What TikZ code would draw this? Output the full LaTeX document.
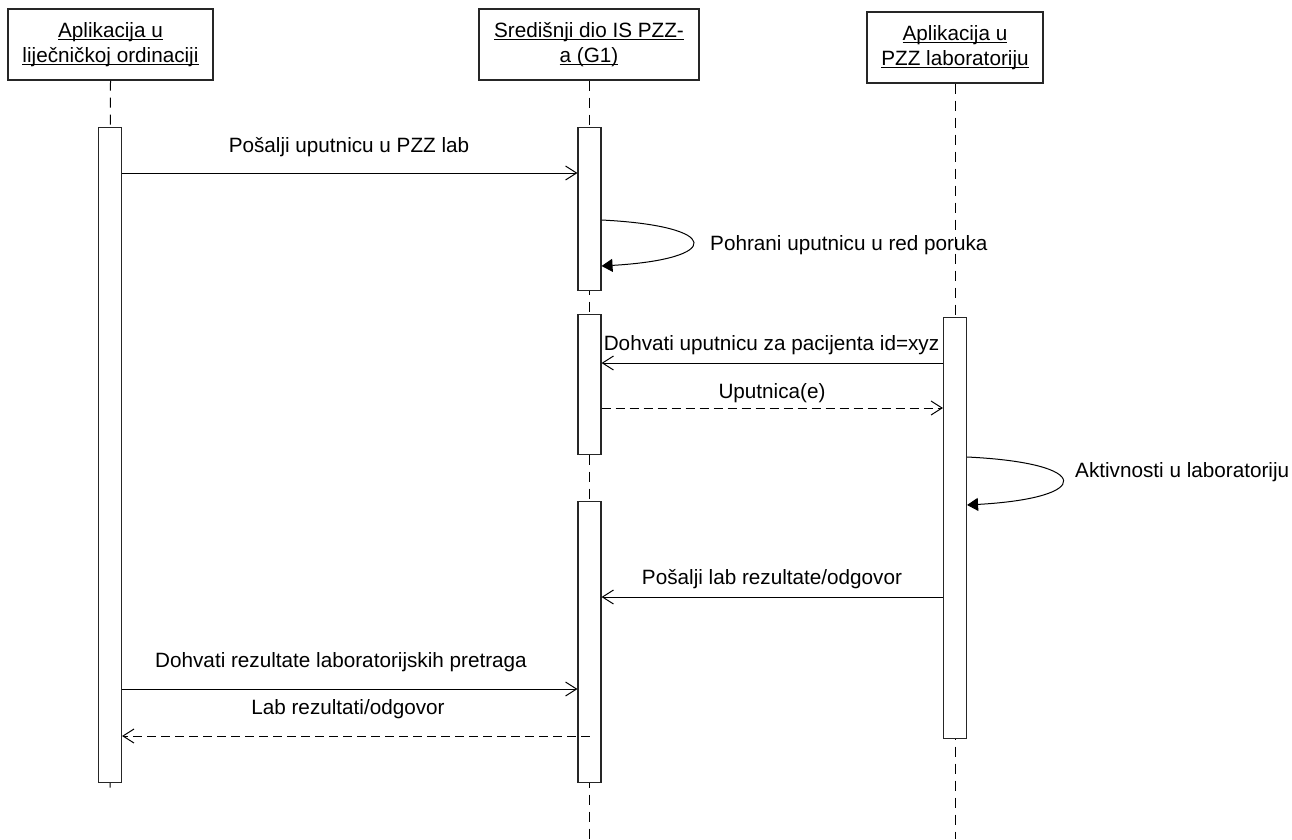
\documentclass[tikz,border=0pt]{standalone}
\usepackage{fontspec}
\setmainfont{Liberation Sans}
\usetikzlibrary{arrows.meta}
\newcommand\myul[1]{\sbox0{#1}\rlap{\rule[-3pt]{\wd0}{1pt}}\usebox0}
\tikzset{
  x=1pt, y=-1pt,
  every node/.style={font=\fontsize{20.7}{25}\selectfont, text=black},
  header/.style={draw=black!85, line width=1.1pt, fill=white, align=center, inner sep=0pt, minimum height=71pt},
  bar/.style={draw=black!85, line width=1.1pt, fill=white, minimum width=23pt, inner sep=0pt, anchor=north},
  life/.style={line width=1pt, dash pattern=on 10pt off 7pt},
  msg/.style={line width=1pt, -{Straight Barb[length=11pt,width=14pt,line width=1pt]}},
  reply/.style={line width=1pt, dash pattern=on 9pt off 5pt, -{Straight Barb[length=11pt,width=14pt,line width=1pt]}},
  selfmsg/.style={line width=1pt, -{Triangle[length=11pt,width=13pt]}},
  lbl/.style={anchor=base, inner sep=0pt},
}
\begin{document}
\begin{tikzpicture}
\useasboundingbox (0,0) rectangle (1292,839);
% headers
\node[header, minimum width=205pt] (h1) at (110.5,44.5) {\myul{Aplikacija u}\\\myul{liječničkoj ordinaciji}};
\node[header, minimum width=220pt] (h2) at (589,44.5) {\myul{Središnji dio IS PZZ-}\\\myul{a (G1)}};
\node[header, minimum width=176pt] (h3) at (955,47.5) {\myul{Aplikacija u}\\\myul{PZZ laboratoriju}};
% lifeline end points
\coordinate (e1) at (110,792);
\coordinate (e2) at (589.5,839);
\coordinate (e3) at (955,839);
% lifelines (dashed)
\draw[life] (h1.south) -- (e1);
\draw[life] (h2.south -| e2) -- (e2);
\draw[life] (h3.south) -- (e3);
% activation bars
\node[bar, minimum height=655pt] (a1) at (110,127) {};
\node[bar, minimum height=163pt] (a2a) at (589.5,127) {};
\node[bar, minimum height=140pt] (a2b) at (589.5,314) {};
\node[bar, minimum height=281pt] (a2c) at (589.5,501) {};
\node[bar, minimum height=421pt] (a3) at (955,317) {};
% message levels
\coordinate (y1) at (0,173);
\coordinate (y3) at (0,363);
\coordinate (y4) at (0,408);
\coordinate (y6) at (0,597);
\coordinate (y7) at (0,689);
\coordinate (y8) at (0,736);
% messages
\draw[msg] (a1.east |- y1) -- (a2a.west |- y1);
\node[lbl] (t1) at (349,152) {Pošalji uputnicu u PZZ lab};

\coordinate (s1a) at (a2a.east |- 0,220);
\coordinate (s1b) at (a2a.east |- 0,266);
\draw[selfmsg] (s1a) .. controls (723,226) and (723,259) .. (s1b);
\node[lbl, anchor=base west] (t2) at (710,250) {Pohrani uputnicu u red poruka};

\draw[msg] (a3.west |- y3) -- (a2b.east |- y3);
\node[lbl] (t3) at (771.5,350) {Dohvati uputnicu za pacijenta id=xyz};

\draw[reply] (a2b.east |- y4) -- (a3.west |- y4);
\node[lbl] (t4) at (772,398) {Uputnica(e)};

\coordinate (s2a) at (a3.east |- 0,457);
\coordinate (s2b) at (a3.east |- 0,505);
\draw[selfmsg] (s2a) .. controls (1094,463) and (1094,498) .. (s2b);
\node[lbl, anchor=base west] (t5) at (1075,477) {Aktivnosti u laboratoriju};

\draw[msg] (a3.west |- y6) -- (a2c.east |- y6);
\node[lbl] (t6) at (772,584) {Pošalji lab rezultate/odgovor};

\draw[msg] (a1.east |- y7) -- (a2c.west |- y7);
\node[lbl] (t7) at (341,667) {Dohvati rezultate laboratorijskih pretraga};

\draw[reply] (a2c.center |- y8) -- (a1.east |- y8);
\node[lbl] (t8) at (348,714) {Lab rezultati/odgovor};
\end{tikzpicture}
\end{document}
